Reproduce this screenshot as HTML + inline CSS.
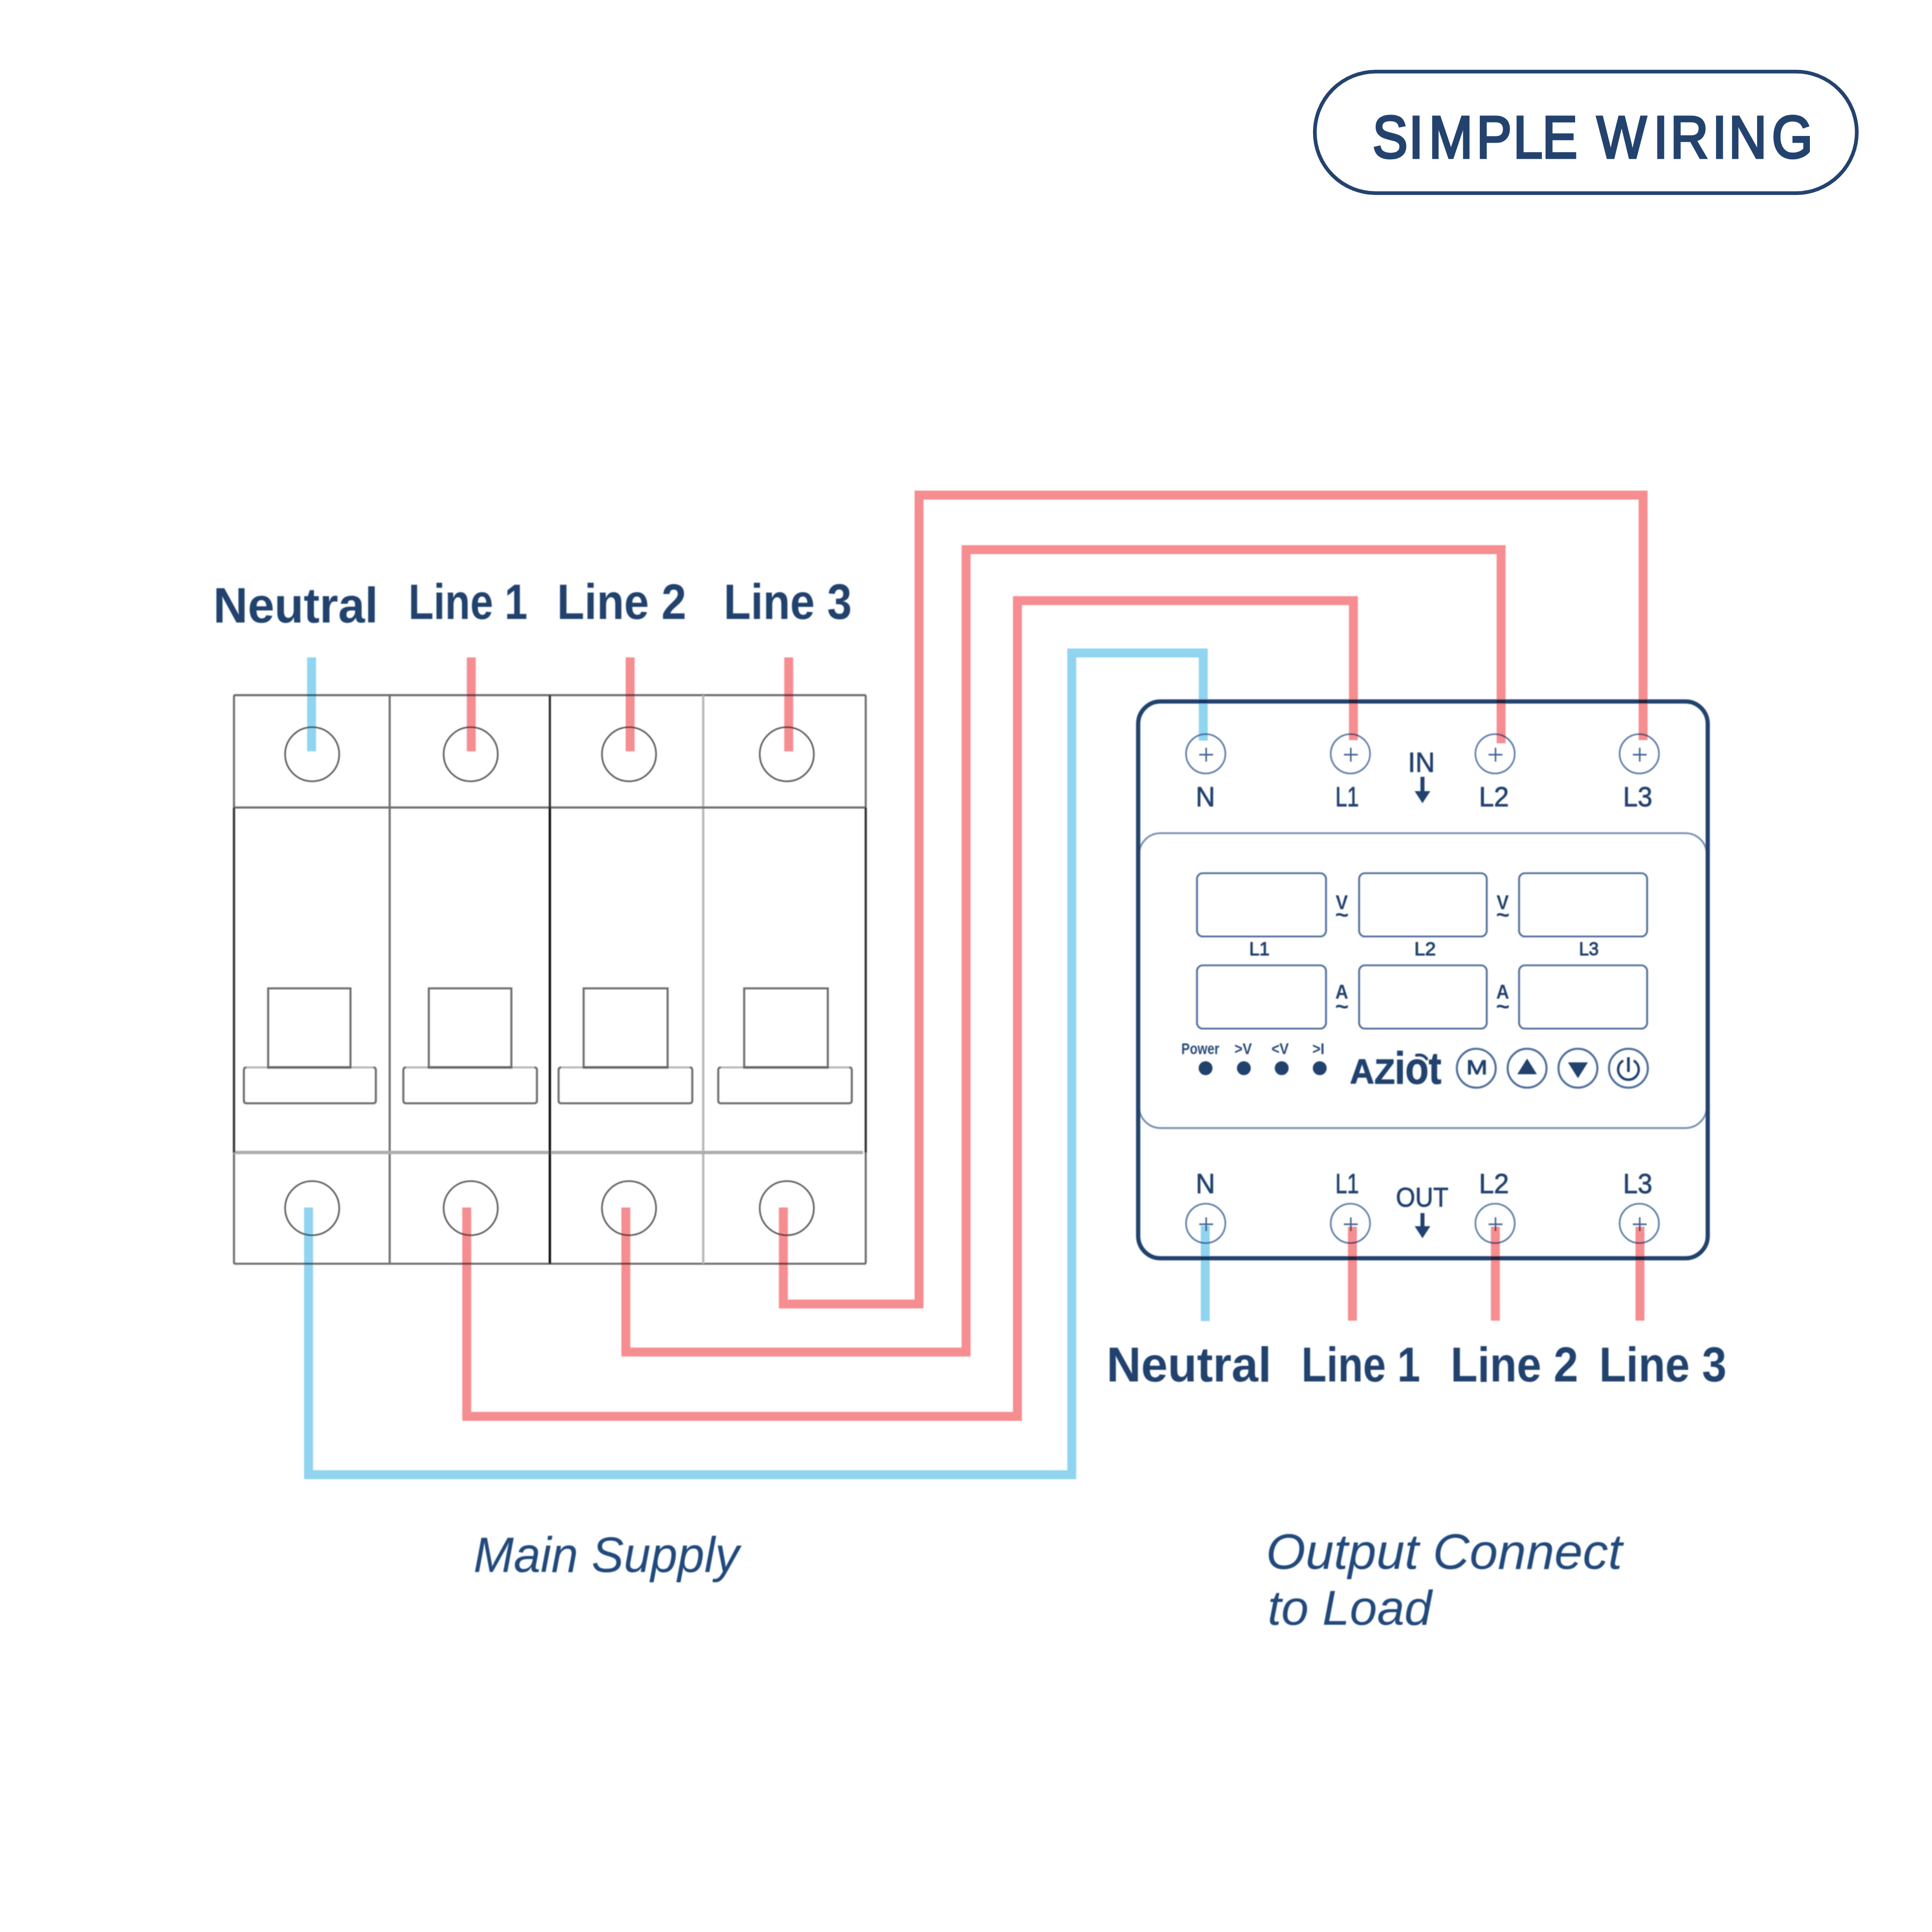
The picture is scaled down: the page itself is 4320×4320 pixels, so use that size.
<!DOCTYPE html>
<html lang="en"><head><meta charset="utf-8"><title>Simple Wiring</title>
<style>html,body{margin:0;padding:0;background:#fff;width:4320px;height:4320px;overflow:hidden}svg{display:block}text{font-family:"Liberation Sans",sans-serif;font-kerning:none}</style></head><body>
<svg width="4320" height="4320" viewBox="0 0 4320 4320">
<rect width="4320" height="4320" fill="#fff"/>
<rect x="2940" y="160.2" width="1211.8" height="271.6" rx="135.8" fill="#fff" stroke="#23436e" stroke-width="8.3"/>
<text transform="scale(0.88 1)" x="3487.62 3579.68 3630.55 3751.64 3845.26 3918.66 4011.36 4057.09 4201.16 4244.23 4350.48 4392.55 4502.13" y="353.2" font-size="134" fill="#23436e" stroke="#23436e" stroke-width="5.2" stroke-linejoin="miter">SIMPLE WIRING</text>
<defs><filter id="soft" filterUnits="userSpaceOnUse" x="0" y="0" width="4320" height="4320"><feGaussianBlur stdDeviation="1.25"/></filter></defs>
<g filter="url(#soft)">
<g fill="none" stroke-linecap="butt" stroke-width="4.6">
<path d="M523.2 1805.7V1557.4Q523.2 1554.4 526.2 1554.4H1932.8Q1935.8 1554.4 1935.8 1557.4V1805.7" stroke="#6e6e6e"/>
<path d="M523.2 2577.1V2822.7Q523.2 2825.7 526.2 2825.7H1932.8Q1935.8 2825.7 1935.8 2822.7V2577.1" stroke="#6e6e6e"/>
<path d="M871.3 1554.4V2825.7" stroke="#6e6e6e"/>
<path d="M1572.4 1554.4V2825.7" stroke="#b8b8b8" stroke-width="5.2"/>
<path d="M523.2 2577.1H1929.8" stroke="#adadad" stroke-width="7.5"/>
<path d="M523.2 1805.7H1935.8" stroke="#6e6e6e" stroke-width="4.8"/>
<path d="M523.2 1805.7V2577.1M1935.8 1805.7V2577.1" stroke="#333" stroke-width="5"/>
<path d="M1229.5 1554.4V1805.7" stroke="#333" stroke-width="5"/>
<path d="M1229.5 1805.7V2825.7" stroke="#0a0a0a" stroke-width="5.2"/>
<circle cx="698" cy="1686.5" r="60.5" stroke="#5a5a5a" stroke-width="3.6"/>
<circle cx="698" cy="2701.5" r="60.5" stroke="#5a5a5a" stroke-width="3.6"/>
<circle cx="1052.5" cy="1686.5" r="60.5" stroke="#5a5a5a" stroke-width="3.6"/>
<circle cx="1052.5" cy="2701.5" r="60.5" stroke="#5a5a5a" stroke-width="3.6"/>
<circle cx="1406.5" cy="1686.5" r="60.5" stroke="#5a5a5a" stroke-width="3.6"/>
<circle cx="1406.5" cy="2701.5" r="60.5" stroke="#5a5a5a" stroke-width="3.6"/>
<circle cx="1759.3" cy="1686.5" r="60.5" stroke="#5a5a5a" stroke-width="3.6"/>
<circle cx="1759.3" cy="2701.5" r="60.5" stroke="#5a5a5a" stroke-width="3.6"/>
<path d="M551.3 2386.7H834.4" stroke="#b8b8b8"/>
<path d="M551.3 2386.7Q545.3 2386.7 545.3 2392.7V2461Q545.3 2467 551.3 2467H834.4Q840.4 2467 840.4 2461V2392.7Q840.4 2386.7 834.4 2386.7" stroke="#6e6e6e"/>
<path d="M599.6 2386.7V2210H783.7V2386.7" stroke="#6e6e6e"/>
<path d="M597.3000000000001 2386.7H786.0" stroke="#666" stroke-width="5.5"/>
<path d="M907.9 2386.7H1194.6" stroke="#b8b8b8"/>
<path d="M907.9 2386.7Q901.9 2386.7 901.9 2392.7V2461Q901.9 2467 907.9 2467H1194.6Q1200.6 2467 1200.6 2461V2392.7Q1200.6 2386.7 1194.6 2386.7" stroke="#6e6e6e"/>
<path d="M958.8 2386.7V2210H1143.4V2386.7" stroke="#6e6e6e"/>
<path d="M956.5 2386.7H1145.7" stroke="#666" stroke-width="5.5"/>
<path d="M1255 2386.7H1542" stroke="#b8b8b8"/>
<path d="M1255 2386.7Q1249 2386.7 1249 2392.7V2461Q1249 2467 1255 2467H1542Q1548 2467 1548 2461V2392.7Q1548 2386.7 1542 2386.7" stroke="#6e6e6e"/>
<path d="M1305 2386.7V2210H1492.8V2386.7" stroke="#6e6e6e"/>
<path d="M1302.7 2386.7H1495.1" stroke="#666" stroke-width="5.5"/>
<path d="M1612 2386.7H1898.6" stroke="#b8b8b8"/>
<path d="M1612 2386.7Q1606 2386.7 1606 2392.7V2461Q1606 2467 1612 2467H1898.6Q1904.6 2467 1904.6 2461V2392.7Q1904.6 2386.7 1898.6 2386.7" stroke="#6e6e6e"/>
<path d="M1664 2386.7V2210H1851V2386.7" stroke="#6e6e6e"/>
<path d="M1661.7 2386.7H1853.3" stroke="#666" stroke-width="5.5"/>
</g>
<g fill="none">
<rect x="2547" y="1863" width="1269.5" height="659.3" rx="48" stroke="#7890b5" stroke-width="4.2"/>
<rect x="2545" y="1568.5" width="1273.5" height="1245" rx="50" stroke="#23436e" stroke-width="9.5"/>
<rect x="2676.5" y="1952.5" width="288.5" height="141.5" rx="13" stroke="#52719d" stroke-width="4.2"/>
<rect x="2676.5" y="2158.5" width="288.5" height="141.5" rx="13" stroke="#52719d" stroke-width="4.2"/>
<rect x="3039" y="1952.5" width="285.4" height="141.5" rx="13" stroke="#52719d" stroke-width="4.2"/>
<rect x="3039" y="2158.5" width="285.4" height="141.5" rx="13" stroke="#52719d" stroke-width="4.2"/>
<rect x="3396.7" y="1952.5" width="286.3" height="141.5" rx="13" stroke="#52719d" stroke-width="4.2"/>
<rect x="3396.7" y="2158.5" width="286.3" height="141.5" rx="13" stroke="#52719d" stroke-width="4.2"/>
<circle cx="2696" cy="1685.5" r="44" stroke="#5f7da8" stroke-width="3.6"/>
<path d="M2681.5 1687.5H2712.5M2697 1672.0V1703.0" stroke="#3f5f8e" stroke-width="3.4"/>
<circle cx="2696" cy="2735.5" r="44" stroke="#5f7da8" stroke-width="3.6"/>
<path d="M2681.5 2737.5H2712.5M2697 2722.0V2753.0" stroke="#3f5f8e" stroke-width="3.4"/>
<circle cx="3019.5" cy="1685.5" r="44" stroke="#5f7da8" stroke-width="3.6"/>
<path d="M3005.0 1687.5H3036.0M3020.5 1672.0V1703.0" stroke="#3f5f8e" stroke-width="3.4"/>
<circle cx="3019.5" cy="2735.5" r="44" stroke="#5f7da8" stroke-width="3.6"/>
<path d="M3005.0 2737.5H3036.0M3020.5 2722.0V2753.0" stroke="#3f5f8e" stroke-width="3.4"/>
<circle cx="3343" cy="1685.5" r="44" stroke="#5f7da8" stroke-width="3.6"/>
<path d="M3328.5 1687.5H3359.5M3344 1672.0V1703.0" stroke="#3f5f8e" stroke-width="3.4"/>
<circle cx="3343" cy="2735.5" r="44" stroke="#5f7da8" stroke-width="3.6"/>
<path d="M3328.5 2737.5H3359.5M3344 2722.0V2753.0" stroke="#3f5f8e" stroke-width="3.4"/>
<circle cx="3665.5" cy="1685.5" r="44" stroke="#5f7da8" stroke-width="3.6"/>
<path d="M3651.0 1687.5H3682.0M3666.5 1672.0V1703.0" stroke="#3f5f8e" stroke-width="3.4"/>
<circle cx="3665.5" cy="2735.5" r="44" stroke="#5f7da8" stroke-width="3.6"/>
<path d="M3651.0 2737.5H3682.0M3666.5 2722.0V2753.0" stroke="#3f5f8e" stroke-width="3.4"/>
<circle cx="3301" cy="2388.6" r="43.5" stroke="#4f6e9b" stroke-width="4.5"/>
<circle cx="3414.6" cy="2388.6" r="43.5" stroke="#4f6e9b" stroke-width="4.5"/>
<circle cx="3528.3" cy="2388.6" r="43.5" stroke="#4f6e9b" stroke-width="4.5"/>
<circle cx="3641.2" cy="2388.6" r="43.5" stroke="#4f6e9b" stroke-width="4.5"/>
<path d="M3641.2 2364V2397" stroke="#23436e" stroke-width="6" stroke-linecap="butt"/>
<path d="M3629.5 2371.5A23 23 0 1 0 3652.9 2371.5" stroke="#23436e" stroke-width="5.5"/>
<path d="M3167.5 2359.5Q3183 2357 3190 2367.5" stroke="#23436e" stroke-width="6.5" stroke-linecap="round"/>
</g>
<g fill="#23436e">
<path d="M3414.6 2367L3436.5 2402H3392.7Z"/>
<path d="M3506 2375.6H3550.6L3528.3 2411Z"/>
<circle cx="2695.7" cy="2388.5" r="15.5"/>
<circle cx="2781.3" cy="2388.5" r="15.5"/>
<circle cx="2865.9" cy="2388.5" r="15.5"/>
<circle cx="2951" cy="2388.5" r="15.5"/>
<path d="M3176.2 1737H3185.2V1769H3198.2L3180.7 1796L3163.2 1769H3176.2Z"/>
<path d="M3176.2 2712.5H3185.2V2741.7H3198.2L3180.7 2768.7L3163.2 2741.7H3176.2Z"/>
</g>
<g fill="none" stroke-width="20" stroke-linejoin="miter" stroke-linecap="butt" style="mix-blend-mode:multiply">
<path d="M696.7 1470V1680" stroke="#90d4f0"/>
<path d="M1053.8 1470V1680" stroke="#f68d91"/>
<path d="M1409 1470V1680" stroke="#f68d91"/>
<path d="M1763.6 1470V1680" stroke="#f68d91"/>
<path d="M689.9 2700V3297.5H2396.5V1460H2690.5V1656" stroke="#90d4f0"/>
<path d="M1043.6 2700V3167H2275V1343H3026.3V1655" stroke="#f68d91"/>
<path d="M1399.4 2700V3023.3H2160.2V1229H3356.5V1662" stroke="#f68d91"/>
<path d="M1751.6 2700V2915.8H2055V1107H3674V1655" stroke="#f68d91"/>
<path d="M2695 2741V2954" stroke="#90d4f0"/>
<path d="M3024 2743V2953" stroke="#f68d91"/>
<path d="M3343.7 2743V2953" stroke="#f68d91"/>
<path d="M3667 2743V2953" stroke="#f68d91"/>
</g>
<text transform="translate(476.74 1392) scale(0.9689 1)" font-size="110.47" fill="#23436e" font-weight="700">Neutral</text>
<text transform="translate(913.23 1383.7) scale(0.8235 1)" font-size="111.92" fill="#23436e" font-weight="700">Line 1</text>
<text transform="translate(1245.51 1383.7) scale(0.8942 1)" font-size="111.92" fill="#23436e" font-weight="700">Line 2</text>
<text transform="translate(1618.17 1383.7) scale(0.8856 1)" font-size="111.92" fill="#23436e" font-weight="700">Line 3</text>
<text transform="translate(2474.24 3089.2) scale(0.9756 1)" font-size="109.74" fill="#23436e" font-weight="700">Neutral</text>
<text transform="translate(2910.05 3088.6) scale(0.8373 1)" font-size="109.74" fill="#23436e" font-weight="700">Line 1</text>
<text transform="translate(3243.39 3088.6) scale(0.9005 1)" font-size="109.74" fill="#23436e" font-weight="700">Line 2</text>
<text transform="translate(3575.81 3088.6) scale(0.8980 1)" font-size="109.74" fill="#23436e" font-weight="700">Line 3</text>
<text transform="translate(2673.7 1802.5) scale(0.9457 1)" font-size="63.23" fill="#23436e" stroke="#23436e" stroke-width="1.2" stroke-linejoin="round">N</text>
<text transform="translate(2985.92 1802.5) scale(0.7477 1)" font-size="63.23" fill="#23436e" stroke="#23436e" stroke-width="1.2" stroke-linejoin="round">L1</text>
<text transform="translate(3307.06 1802.5) scale(0.9522 1)" font-size="63.23" fill="#23436e" stroke="#23436e" stroke-width="1.2" stroke-linejoin="round">L2</text>
<text transform="translate(3629.18 1802.5) scale(0.9300 1)" font-size="63.23" fill="#23436e" stroke="#23436e" stroke-width="1.2" stroke-linejoin="round">L3</text>
<text transform="translate(2673.7 2668.4) scale(0.9457 1)" font-size="63.23" fill="#23436e" stroke="#23436e" stroke-width="1.2" stroke-linejoin="round">N</text>
<text transform="translate(2985.92 2668.4) scale(0.7477 1)" font-size="63.23" fill="#23436e" stroke="#23436e" stroke-width="1.2" stroke-linejoin="round">L1</text>
<text transform="translate(3307.06 2668.4) scale(0.9522 1)" font-size="63.23" fill="#23436e" stroke="#23436e" stroke-width="1.2" stroke-linejoin="round">L2</text>
<text transform="translate(3629.18 2668.4) scale(0.9300 1)" font-size="63.23" fill="#23436e" stroke="#23436e" stroke-width="1.2" stroke-linejoin="round">L3</text>
<text transform="translate(3148.25 1725.7) scale(0.9514 1)" font-size="63.23" fill="#23436e" stroke="#23436e" stroke-width="1.2" stroke-linejoin="round">IN</text>
<text transform="translate(3121.37 2698.2) scale(0.9004 1)" font-size="61.77" fill="#23436e" stroke="#23436e" stroke-width="1.2" stroke-linejoin="round">OUT</text>
<text transform="translate(2793.13 2136) scale(0.9576 1)" font-size="42.88" fill="#23436e" stroke="#23436e" stroke-width="1.6" stroke-linejoin="round">L1</text>
<text transform="translate(3162.44 2136) scale(1.0114 1)" font-size="42.88" fill="#23436e" stroke="#23436e" stroke-width="1.6" stroke-linejoin="round">L2</text>
<text transform="translate(3530.76 2136) scale(0.9222 1)" font-size="42.88" fill="#23436e" stroke="#23436e" stroke-width="1.6" stroke-linejoin="round">L3</text>
<text transform="translate(2986.52 2033) scale(0.9322 1)" font-size="44.33" fill="#23436e" font-weight="700">V</text>
<text transform="translate(2985.23 2062.5) scale(1.0055 1)" font-size="52" fill="#23436e" font-weight="700">~</text>
<text transform="translate(2985.8 2232.5) scale(0.9229 1)" font-size="43.6" fill="#23436e" font-weight="700">A</text>
<text transform="translate(2985.23 2268) scale(1.0055 1)" font-size="52" fill="#23436e" font-weight="700">~</text>
<text transform="translate(3346.22 2033) scale(0.9322 1)" font-size="44.33" fill="#23436e" font-weight="700">V</text>
<text transform="translate(3344.93 2062.5) scale(1.0055 1)" font-size="52" fill="#23436e" font-weight="700">~</text>
<text transform="translate(3345.5 2232.5) scale(0.9229 1)" font-size="43.6" fill="#23436e" font-weight="700">A</text>
<text transform="translate(3344.93 2268) scale(1.0055 1)" font-size="52" fill="#23436e" font-weight="700">~</text>
<text transform="translate(2641.51 2356.5) scale(0.7947 1)" font-size="35.61" fill="#2c4c79" font-weight="700">Power</text>
<text transform="translate(2760.29 2356.5) scale(0.8736 1)" font-size="35.61" fill="#2c4c79" font-weight="700">&gt;V</text>
<text transform="translate(2842.89 2356.5) scale(0.8736 1)" font-size="35.61" fill="#2c4c79" font-weight="700">&lt;V</text>
<text transform="translate(2934.38 2356.5) scale(0.8802 1)" font-size="35.61" fill="#2c4c79" font-weight="700">&gt;I</text>
<text y="2423" font-weight="700" fill="#23436e" stroke="#23436e" stroke-width="1.4" stroke-linejoin="round"><tspan x="3018.32" font-size="77.03" textLength="100.86" lengthAdjust="spacingAndGlyphs">AZ</tspan><tspan x="3118.53" font-size="100" textLength="104.52" lengthAdjust="spacingAndGlyphs">iot</tspan></text>
<text transform="translate(3278.74 2402) scale(1.2607 1)" font-size="45.06" fill="#23436e" stroke="#23436e" stroke-width="1.5" stroke-linejoin="round">M</text>
<text transform="translate(1058.68 3514.6) scale(0.9700 1)" font-size="111.34" fill="#214a7c" font-style="italic">Main Supply</text>
<text transform="translate(2830.84 3508.4) scale(1.0215 1)" font-size="111.34" fill="#214a7c" font-style="italic">Output Connect</text>
<text transform="translate(2834.51 3632.6) scale(1.0090 1)" font-size="109.01" fill="#214a7c" font-style="italic">to Load</text>
</g>
</svg></body></html>
